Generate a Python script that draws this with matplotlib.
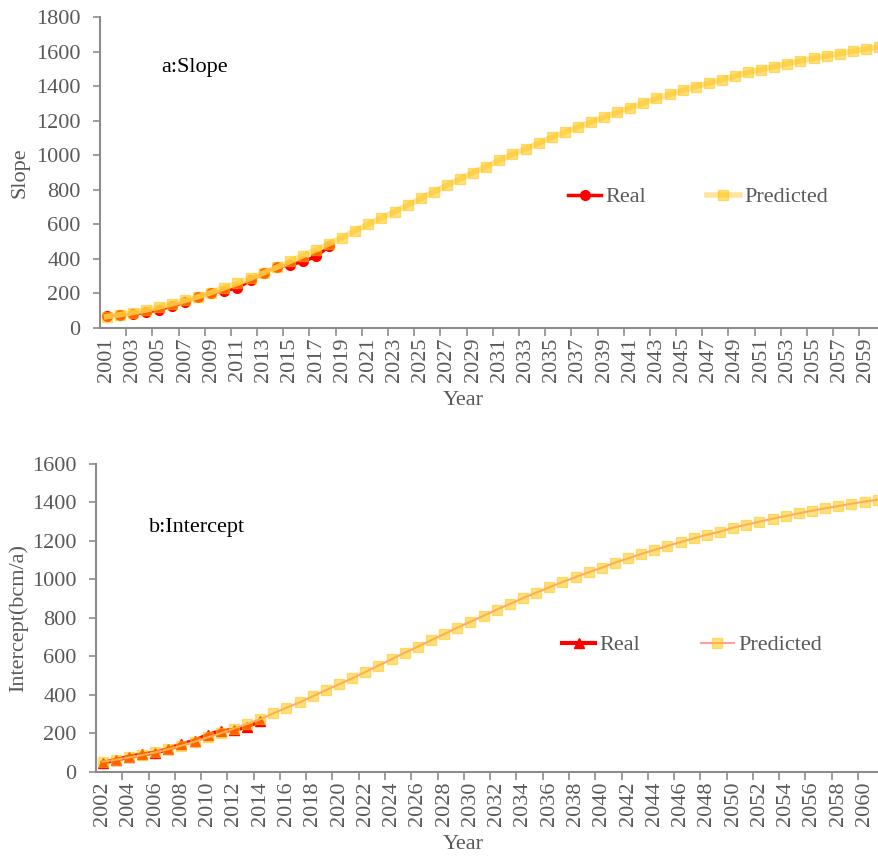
import numpy as np
import matplotlib.pyplot as plt
from matplotlib.ticker import FixedLocator, MultipleLocator

plt.rcParams['font.family'] = ['Liberation Serif', 'DejaVu Serif']

# --- данные ---
years_a = list(range(2001, 2061))
slope_real = [68, 74, 80, 89, 105, 126, 149, 178, 202, 215, 231, 275, 316, 353,
              364, 384, 413, 473]
slope_pred = [64, 75, 88, 103, 120, 138, 158, 180, 204, 232, 258, 287, 318, 350,
              384, 418, 452, 487,
              523, 562, 601, 636, 673, 711, 750, 787, 826, 863, 899, 934, 971,
              1006, 1037, 1070, 1103, 1134, 1163, 1192, 1221, 1248, 1276, 1302,
              1330, 1353, 1376, 1398, 1419,
              1438, 1459, 1481, 1496, 1514, 1531, 1547, 1562, 1576, 1590, 1603,
              1616, 1628]

years_b = list(range(2002, 2062))
inter_real = [47, 61, 78, 90, 99, 118, 142, 161, 191, 211, 217, 234, 265]
inter_pred = [52, 62, 74, 86, 100, 117, 135, 156, 178, 200, 224, 248,
              272, 303, 333, 360, 392, 424, 454, 485, 518, 551, 584, 618, 649,
              683, 715, 748, 779, 810, 842, 871, 902, 930, 958, 985, 1011, 1036,
              1060, 1086, 1108, 1131, 1152, 1173, 1193, 1212, 1231,
              1247, 1268, 1283, 1299, 1314, 1328, 1342, 1356, 1368, 1380, 1392,
              1403, 1413]

grey = '#595959'
axis_grey = '#8C8C8C'
sq_col = (1.0, 0.76, 0.0, 0.5)   # полупрозрачный жёлтый
fs = 16

fig = plt.figure(figsize=(8.79, 8.56), dpi=100)


def style_axes(ax, ylim, ystep, first_label_year, last_year):
    for s in ['top', 'right']:
        ax.spines[s].set_visible(False)
    for s in ['left', 'bottom']:
        ax.spines[s].set_color(axis_grey)
        ax.spines[s].set_linewidth(1.5)
    ax.set_ylim(*ylim)
    ax.yaxis.set_major_locator(MultipleLocator(ystep))
    ax.tick_params(axis='y', colors=axis_grey, labelcolor=grey, labelsize=fs,
                   length=5, width=1.2, direction='out', pad=9)
    labels = list(range(first_label_year, last_year + 1, 2))
    ax.set_xticks(labels)
    ax.set_xticklabels([str(y) for y in labels], rotation=90)
    ax.xaxis.set_minor_locator(FixedLocator(np.arange(first_label_year + 1.5, last_year + 2, 2)))
    ax.tick_params(axis='x', which='major', length=0, labelcolor=grey, labelsize=fs, pad=7)
    ax.tick_params(axis='x', which='minor', length=6, width=1.2, color=axis_grey,
                   direction='out')


# --- a: Slope ---
ax1 = fig.add_axes([100 / 879, 1 - 327.7 / 856, 1 - 100 / 879, 310.4 / 856])
l1, = ax1.plot(years_a[:len(slope_real)], slope_real, color='#FF0000', lw=2.5,
               marker='o', ms=7, mfc='#FF0000', mec='#FF0000', label='Real', zorder=2)
l2, = ax1.plot(years_a, slope_pred, color=(1.0, 0.88, 0.55, 0.85), lw=4,
               marker='s', ms=7, mfc=sq_col, mec=sq_col,
               label='Predicted', zorder=3)
ax1.set_xlim(2000.5, 2060.0)
style_axes(ax1, (0, 1800), 200, 2001, 2059)
ax1.set_ylabel('Slope', fontsize=fs, color=grey)
ax1.yaxis.set_label_coords(-0.09, 0.5)
ax1.set_xlabel('Year', fontsize=fs, color=grey)
ax1.xaxis.set_label_coords(0.466, -0.205)
ax1.text(2005.2, 1510, 'a:Slope', fontsize=fs, color='black', va='center')
fig.legend(handles=[l1, l2], loc='center left', bbox_to_anchor=(568 / 879, 1 - 197 / 856),
           ncol=2, frameon=False, fontsize=fs, labelcolor=grey, handlelength=1.5,
           handletextpad=0.2, columnspacing=2.7, borderaxespad=0, borderpad=0)

# --- b: Intercept ---
ax2 = fig.add_axes([96 / 879, 1 - 771.7 / 856, 1 - 96 / 879, 308 / 856])
l3, = ax2.plot(years_b[:len(inter_real)], inter_real, color='#FF0000', lw=3,
               marker='^', ms=7.5, mfc='#FF0000', mec='#FF0000', label='Real', zorder=2)
l4, = ax2.plot(years_b, inter_pred, color='#FF9E9E', lw=1.5,
               marker='s', ms=7, mfc=sq_col, mec=sq_col,
               label='Predicted', zorder=3)
ax2.set_xlim(2001.5, 2061.1)
style_axes(ax2, (0, 1600), 200, 2002, 2060)
ax2.set_ylabel('Intercept(bcm/a)', fontsize=fs, color=grey)
ax2.yaxis.set_label_coords(-0.087, 0.5)
ax2.set_xlabel('Year', fontsize=fs, color=grey)
ax2.xaxis.set_label_coords(0.469, -0.207)
ax2.text(2005.5, 1271, 'b:Intercept', fontsize=fs, color='black', va='center')
fig.legend(handles=[l3, l4], loc='center left', bbox_to_anchor=(562 / 879, 1 - 645 / 856),
           ncol=2, frameon=False, fontsize=fs, labelcolor=grey, handlelength=1.5,
           handletextpad=0.2, columnspacing=2.7, borderaxespad=0, borderpad=0)

fig.savefig('out.png', dpi=100)
